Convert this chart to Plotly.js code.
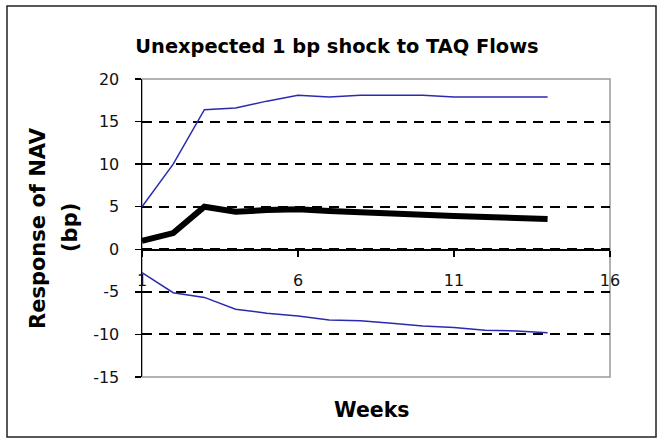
<!DOCTYPE html>
<html>
<head>
<meta charset="utf-8">
<script src="https://cdn.plot.ly/plotly-3.0.1.min.js"></script>
<style>
  html, body { margin: 0; padding: 0; background: #fff; }
  #chart { width: 663px; height: 441px; }
</style>
</head>
<body>
<div id="chart"></div>
<script>
// ---- Data ----
const weeks = [1, 2, 3, 4, 5, 6, 7, 8, 9, 10, 11, 12, 13, 14];
const response = [1.0, 1.9, 5.0, 4.4, 4.6, 4.7, 4.5, 4.3, 4.2, 4.05, 3.9, 3.8, 3.65, 3.55];
const upperBand = [5.0, 10.0, 16.4, 16.6, 17.4, 18.1, 17.9, 18.1, 18.1, 18.1, 17.9, 17.9, 17.9, 17.9];
const lowerBand = [-2.75, -5.1, -5.65, -7.05, -7.5, -7.85, -8.3, -8.4, -8.7, -9.0, -9.2, -9.5, -9.6, -9.8];
const xTickVals = [1, 6, 11, 16];
const xTickText = ['1', '6', '11', '16'];
const yTickVals = [-15, -10, -5, 0, 5, 10, 15, 20];
const yTickText = ['-15', '-10', '-5', '0', '5', '10', '15', '20'];

const FONT = 'DejaVu Sans, Arial, sans-serif';
const blue = '#2a2ab0';

const traces = [
  { x: weeks, y: upperBand, type: 'scatter', mode: 'lines',
    line: { color: blue, width: 1.5 }, hoverinfo: 'skip' },
  { x: weeks, y: lowerBand, type: 'scatter', mode: 'lines',
    line: { color: blue, width: 1.5 }, hoverinfo: 'skip' },
  { x: weeks, y: response, type: 'scatter', mode: 'lines',
    line: { color: '#000000', width: 6 }, hoverinfo: 'skip' }
];

const layout = {
  width: 663, height: 441,
  margin: { l: 142, r: 53, t: 79, b: 64, pad: 0 },
  paper_bgcolor: '#ffffff', plot_bgcolor: '#ffffff',
  showlegend: false,
  title: {
    text: '<b>Unexpected 1 bp shock to TAQ Flows</b>',
    font: { family: FONT, size: 19.4, color: '#000' },
    xref: 'container', x: 337 / 663, xanchor: 'center',
    yref: 'container', y: 1 - 46 / 441, yanchor: 'middle'
  },
  xaxis: {
    range: [1, 16], tickmode: 'array', tickvals: xTickVals, ticktext: xTickText,
    anchor: 'free', position: 15 / 35,
    showline: true, linecolor: '#000', linewidth: 1.5,
    ticks: 'outside', ticklen: 6, tickwidth: 1.5, tickcolor: '#000',
    ticklabelstandoff: 10,
    showgrid: false, zeroline: false,
    tickfont: { family: FONT, size: 16, color: '#111' }
  },
  yaxis: {
    range: [-15, 20], tickmode: 'array', tickvals: yTickVals, ticktext: yTickText,
    showline: true, linecolor: '#000', linewidth: 1.5,
    ticks: 'outside', ticklen: 6, tickwidth: 1.5, tickcolor: '#000',
    ticklabelstandoff: 12,
    showgrid: true, gridcolor: '#000', gridwidth: 2, griddash: '10px,7px',
    zeroline: false,
    tickfont: { family: FONT, size: 16, color: '#111' }
  },
  shapes: [
    { type: 'rect', xref: 'paper', yref: 'paper', x0: 0, x1: 1, y0: 0, y1: 1,
      line: { color: '#999', width: 1.5 }, layer: 'below' },
    { type: 'rect', xref: 'paper', yref: 'paper',
      x0: (7 - 142) / 468, x1: (656 - 142) / 468,
      y0: (377 - 437) / 298, y1: (377 - 6) / 298,
      line: { color: '#222', width: 1.5 }, layer: 'below' }
  ],
  annotations: [
    { text: '<b>Response of NAV</b>', textangle: -90,
      xref: 'paper', yref: 'paper', x: (38 - 142) / 468, y: (377 - 228) / 298,
      xanchor: 'center', yanchor: 'middle', showarrow: false,
      font: { family: FONT, size: 21, color: '#000' } },
    { text: '<b>(bp)</b>', textangle: -90,
      xref: 'paper', yref: 'paper', x: (70 - 142) / 468, y: (377 - 228) / 298,
      xanchor: 'center', yanchor: 'middle', showarrow: false,
      font: { family: FONT, size: 21, color: '#000' } },
    { text: '<b>Weeks</b>',
      xref: 'paper', yref: 'paper', x: (372 - 142) / 468, y: (377 - 410) / 298,
      xanchor: 'center', yanchor: 'middle', showarrow: false,
      font: { family: FONT, size: 20.5, color: '#000' } }
  ]
};

Plotly.newPlot('chart', traces, layout, { staticPlot: true, displayModeBar: false });
</script>
</body>
</html>
